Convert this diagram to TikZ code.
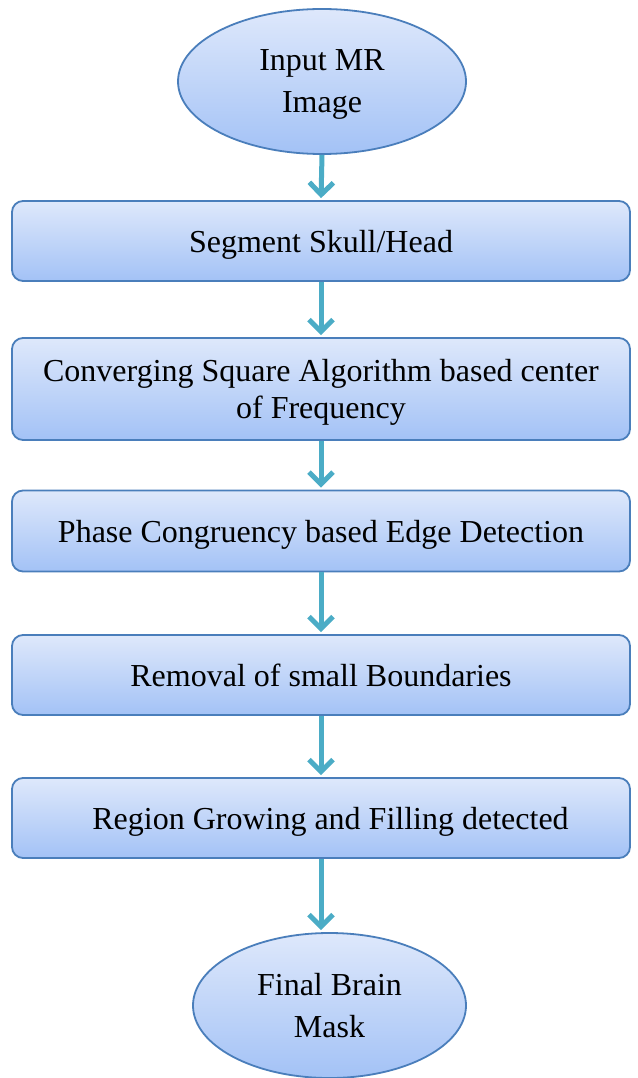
\documentclass[tikz,border=0pt]{standalone}
\usepackage{fontspec}
\setmainfont{Liberation Serif}
\usetikzlibrary{shapes.geometric,arrows.meta}
\definecolor{edgeblue}{HTML}{4A7EBB}
\definecolor{filltop}{HTML}{DEE8FB}
\definecolor{fillbot}{HTML}{A3C2F6}
\definecolor{flowteal}{HTML}{4BACC6}
\tikzset{
  stepbox/.style={rectangle, rounded corners=11pt, draw=edgeblue, line width=1.8pt,
    top color=filltop, bottom color=fillbot, minimum width=618pt, inner sep=0pt,
    text depth=0pt, align=center, font=\fontsize{32}{37}\selectfont},
  terminal/.style={ellipse, draw=edgeblue, line width=1.8pt,
    top color=filltop, bottom color=fillbot, inner sep=0pt,
    text depth=0pt, align=center, font=\fontsize{32}{42}\selectfont},
  flow/.style={draw=flowteal, line width=5pt,
    -{Straight Barb[length=12pt,width=24pt,line width=5pt]}, shorten >=2pt},
}
\begin{document}
\begin{tikzpicture}[x=1pt,y=-1pt]
\useasboundingbox (0,0) rectangle (637,1078);

\node[terminal, minimum width=288pt, minimum height=145pt] (e1) at (322,81.5) {Input MR\\Image};
\node[stepbox, minimum height=80pt]  (b1) at (321,241) {Segment Skull/Head};
\node[stepbox, minimum height=102pt] (b2) at (321,389) {Converging Square Algorithm based center\\of Frequency};
\node[stepbox, minimum height=81pt]  (b3) at (321,531) {Phase Congruency based Edge Detection};
\node[stepbox, minimum height=80pt]  (b4) at (321,675) {Removal of small Boundaries};
\node[stepbox, minimum height=80pt]  (b5) at (321,818) {\hspace*{19pt}Region Growing and Filling detected};
\node[terminal, minimum width=273pt, minimum height=145pt] (e2) at (329.5,1005.5) {Final Brain\\Mask};

\draw[flow] (e1.south) -- (b1.north);
\draw[flow] (b1.south) -- (b2.north);
\draw[flow] (b2.south) -- (b3.north);
\draw[flow] (b3.south) -- (b4.north);
\draw[flow] (b4.south) -- (b5.north);
\draw[flow] (b5.south) -- (b5.south |- e2.north);
\end{tikzpicture}
\end{document}
